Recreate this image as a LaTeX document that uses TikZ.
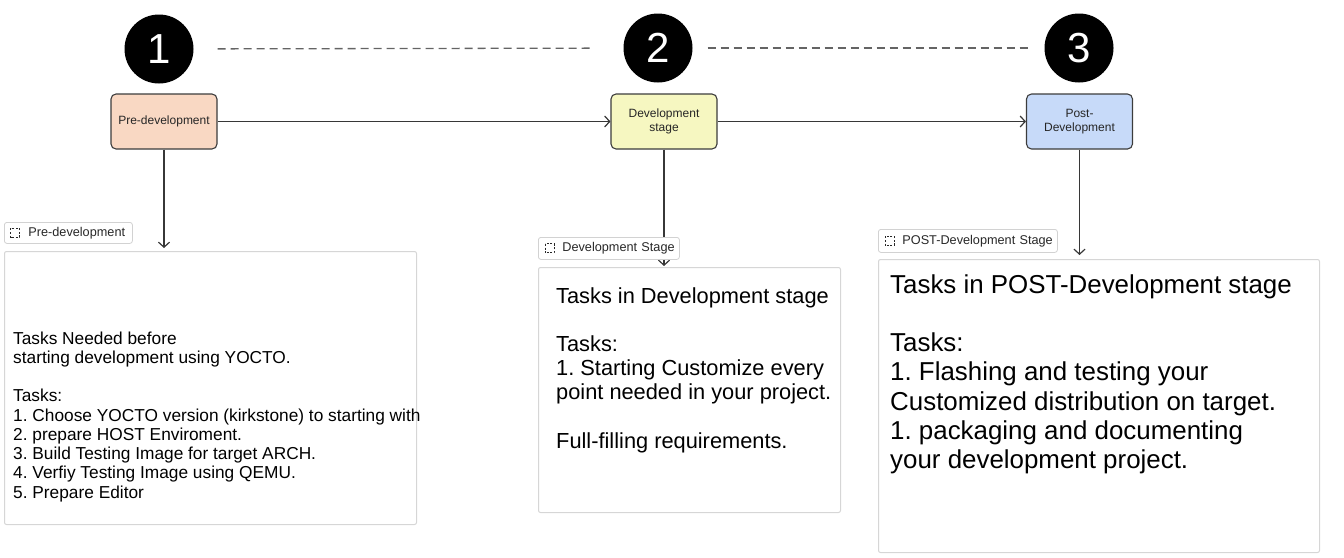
\documentclass[tikz,border=0pt]{standalone}
\usepackage{fontspec}
\setmainfont{Liberation Sans}
\usetikzlibrary{arrows.meta}
\definecolor{peach}{RGB}{249,216,195}
\definecolor{paleyellow}{RGB}{246,247,193}
\definecolor{paleblue}{RGB}{199,218,249}
\definecolor{stageline}{RGB}{60,60,60}
\definecolor{boxline}{RGB}{214,214,214}
\definecolor{tagline}{RGB}{210,210,210}
\definecolor{tagtext}{RGB}{40,40,40}
\definecolor{dashgray}{RGB}{100,100,100}
\definecolor{arrowgray}{RGB}{55,55,55}
\tikzset{
  num/.style={circle, fill=black, minimum size=69pt, inner sep=0pt, text=white,
    font=\fontsize{42}{42}\selectfont},
  stagebox/.style={draw=stageline, line width=1.1pt, rounded corners=5pt,
    minimum width=106pt, minimum height=55pt, align=center, inner sep=2pt,
    font=\fontsize{12}{14}\selectfont, text=black!85},
  bigbox/.style={draw=boxline, line width=1pt, rounded corners=2pt, fill=white,
    anchor=north west, inner sep=0pt},
  tag/.style={draw=tagline, line width=0.8pt, fill=white, rounded corners=2.5pt,
    inner xsep=0pt, inner ysep=0pt, align=left, anchor=north west,
    font=\fontsize{12.7}{14}\selectfont, text=tagtext},
  tagicon/.style={draw=tagtext, line width=1pt, dash pattern=on 2pt off 1.6pt},
  dashline/.style={draw=dashgray, line width=1.3pt, dash pattern=on 8pt off 5pt},
  arr/.style={draw=arrowgray, line width=1.2pt,
    -{Straight Barb[length=5pt,width=11pt,line width=1.2pt]}},
  bodytext/.style={anchor=base west, inner sep=0pt, text=black}
}
\begin{document}
\frenchspacing
\begin{tikzpicture}[x=1pt,y=-1pt]
\useasboundingbox (0,0) rectangle (1344,557);

% numbered circles
\node[num] (n1) at (159,49) {1};
\node[num] (n2) at (658,48) {2};
\node[num] (n3) at (1079,48) {3};
\draw[dashline, shorten <=24pt, shorten >=31pt] (n1) -- (n2);
\draw[dashline, shorten <=15pt, shorten >=16pt] (n2) -- (n3);

% stage boxes
\node[stagebox, fill=peach] (pre) at (164,121.5) {Pre-development};
\node[stagebox, fill=paleyellow] (dev) at (664,121.5) {Development\\stage};
\node[stagebox, fill=paleblue] (post) at (1079.5,121.5) {Post-\\Development};

\draw[arr] (pre) -- (dev);
\draw[arr] (dev) -- (post);

% big boxes
\node[bigbox, minimum width=412pt, minimum height=273pt] (prebig) at (4,251) {};
\node[bigbox, minimum width=302pt, minimum height=245pt] (devbig) at (538,267) {};
\node[bigbox, minimum width=441pt, minimum height=293pt] (postbig) at (878,259) {};

% vertical arrows
\coordinate (e1) at (163,248);
\coordinate (e2) at (664,266);
\coordinate (e3) at (1079,255);
\draw[arr] (pre.south) -- (pre.south |- e1);
\draw[arr] (dev.south) -- (dev.south |- e2);
\draw[arr] (post.south) -- (post.south |- e3);

% tags
\node[tag, text width=128pt, minimum height=21pt] (t1) at (4,222) {\hspace*{24pt}Pre-development};
\node[tag, text width=141pt, minimum height=22pt] (t2) at (538,237) {\hspace*{24pt}Development Stage};
\node[tag, text width=179pt, minimum height=23pt] (t3) at (878,229) {\hspace*{24pt}POST-Development Stage};
\draw[tagicon] ([xshift=6.5pt]t1.west) ++(0,-4.5) rectangle ++(9,9);
\draw[tagicon] ([xshift=7pt]t2.west) ++(0,-4.5) rectangle ++(9,9);
\draw[tagicon] ([xshift=7pt]t3.west) ++(0,-4.5) rectangle ++(9,9);

% texts
\node[bodytext, font=\fontsize{17.3}{19.25}\selectfont] (pretext) at (13,344) {%
\begin{tabular}[t]{@{}l@{}}
Tasks Needed before\\
starting development using YOCTO.\\
\\
Tasks:\\
1. Choose YOCTO version (kirkstone) to starting with\\
2. prepare HOST Enviroment.\\
3. Build Testing Image for target ARCH.\\
4. Verfiy Testing Image using QEMU.\\
5. Prepare Editor
\end{tabular}};

\node[bodytext, font=\fontsize{21.8}{24.2}\selectfont] (devtext) at (556,303) {%
\begin{tabular}[t]{@{}l@{}}
Tasks in Development stage\\
\\
Tasks:\\
1. Starting Customize every\\
point needed in your project.\\
\\
Full-filling requirements.
\end{tabular}};

\node[bodytext, font=\fontsize{25.9}{29.3}\selectfont] (posttext) at (890,293) {%
\begin{tabular}[t]{@{}l@{}}
Tasks in POST-Development stage\\
\\
Tasks:\\
1. Flashing and testing your\\
Customized distribution on target.\\
1. packaging and documenting\\
your development project.
\end{tabular}};
\end{tikzpicture}
\end{document}
